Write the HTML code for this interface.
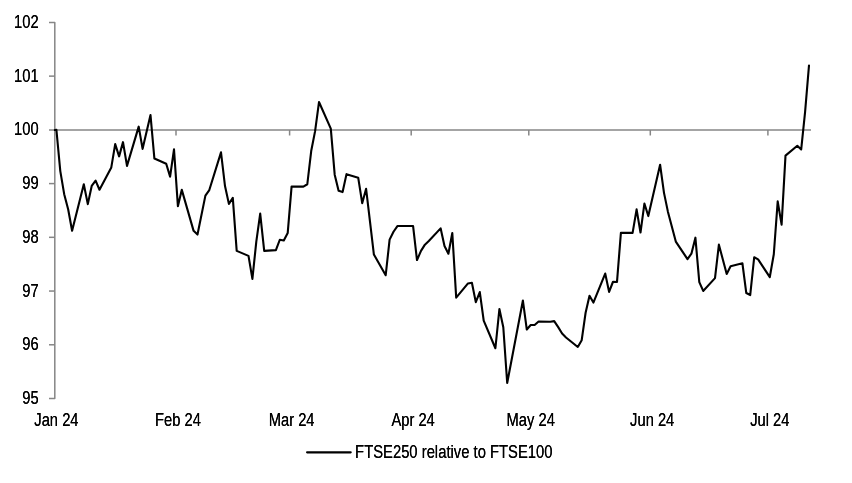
<!DOCTYPE html>
<html><head><meta charset="utf-8"><title>FTSE250 relative to FTSE100</title>
<style>html,body{margin:0;padding:0;background:#fff}body{width:852px;height:483px;overflow:hidden}svg{display:block}text{font-family:"Liberation Sans",Arial,sans-serif;font-size:18.4px;fill:#000}</style></head><body>
<svg width="852" height="483" viewBox="0 0 852 483">
<rect width="852" height="483" fill="#fff"/>
<g stroke="#868686" stroke-width="1.5" fill="none">
<path d="M49,22.4 H54.8 V398.5 H49" stroke-linejoin="round"/>
<line x1="49" y1="76.13" x2="54.8" y2="76.13"/>
<line x1="49" y1="130.00" x2="54.8" y2="130.00"/>
<line x1="49" y1="183.59" x2="54.8" y2="183.59"/>
<line x1="49" y1="237.32" x2="54.8" y2="237.32"/>
<line x1="49" y1="291.05" x2="54.8" y2="291.05"/>
<line x1="49" y1="344.78" x2="54.8" y2="344.78"/>
<line x1="54" y1="130" x2="811" y2="130"/>
<line x1="176.0" y1="130" x2="176.0" y2="135.5"/>
<line x1="289.6" y1="130" x2="289.6" y2="135.5"/>
<line x1="411.2" y1="130" x2="411.2" y2="135.5"/>
<line x1="528.8" y1="130" x2="528.8" y2="135.5"/>
<line x1="650.3" y1="130" x2="650.3" y2="135.5"/>
<line x1="767.9" y1="130" x2="767.9" y2="135.5"/>
</g>
<defs><filter id="w" x="-5%" y="-20%" width="110%" height="140%"><feOffset dx="0.28" dy="0" result="o"/><feMerge><feMergeNode in="SourceGraphic"/><feMergeNode in="o"/></feMerge></filter></defs>
<g filter="url(#w)">
<text transform="translate(38.6,28.00) scale(0.8,1)" text-anchor="end">102</text>
<text transform="translate(38.6,81.73) scale(0.8,1)" text-anchor="end">101</text>
<text transform="translate(38.6,135.46) scale(0.8,1)" text-anchor="end">100</text>
<text transform="translate(38.6,189.19) scale(0.8,1)" text-anchor="end">99</text>
<text transform="translate(38.6,242.92) scale(0.8,1)" text-anchor="end">98</text>
<text transform="translate(38.6,296.65) scale(0.8,1)" text-anchor="end">97</text>
<text transform="translate(38.6,350.38) scale(0.8,1)" text-anchor="end">96</text>
<text transform="translate(38.6,404.11) scale(0.8,1)" text-anchor="end">95</text>
<text transform="translate(56.4,426) scale(0.8,1)" text-anchor="middle">Jan 24</text>
<text transform="translate(177.9,426) scale(0.8,1)" text-anchor="middle">Feb 24</text>
<text transform="translate(291.6,426) scale(0.8,1)" text-anchor="middle">Mar 24</text>
<text transform="translate(413.1,426) scale(0.8,1)" text-anchor="middle">Apr 24</text>
<text transform="translate(530.7,426) scale(0.8,1)" text-anchor="middle">May 24</text>
<text transform="translate(652.2,426) scale(0.8,1)" text-anchor="middle">Jun 24</text>
<text transform="translate(769.8,426) scale(0.8,1)" text-anchor="middle">Jul 24</text>
<text transform="translate(355.1,458.3) scale(0.8048,1)">FTSE250 relative to FTSE100</text>
</g>
<polyline points="54.9,130.0 56.4,129.75 60.3,171.05 64.2,194.15 68.2,209.55 72.1,230.75 83.8,184.25 87.8,204.15 91.7,185.95 95.6,180.55 99.5,189.75 111.3,167.45 115.2,144.15 119.1,156.35 123.0,142.15 127.0,165.85 138.7,126.65 142.6,148.85 150.5,115.05 154.4,158.55 166.2,163.75 170.1,176.65 174.0,149.35 177.9,206.15 181.8,189.85 193.6,230.85 197.5,234.55 205.4,195.65 209.3,190.05 221.0,152.35 225.0,186.05 228.9,203.85 232.8,197.95 236.7,250.85 248.5,255.85 252.4,278.95 256.3,241.65 260.2,213.65 264.2,250.85 275.9,250.15 279.8,239.75 283.8,240.45 287.7,233.05 291.6,186.45 303.4,186.65 307.3,184.25 311.2,151.05 315.1,131.15 319.0,102.05 330.8,128.65 334.7,174.65 338.6,190.75 342.6,192.05 346.5,174.15 358.2,177.65 362.2,203.15 366.1,188.75 370.0,221.65 373.9,254.55 385.7,275.25 389.6,239.65 393.5,231.75 397.4,226.05 401.4,226.05 413.1,226.05 417.0,260.05 421.0,250.85 424.9,244.65 428.8,240.95 440.6,228.35 444.5,246.05 448.4,253.75 452.3,233.05 456.2,297.65 468.0,283.45 471.9,282.75 475.8,302.15 479.8,292.05 483.7,320.55 495.4,348.25 499.4,309.05 503.3,327.25 507.2,383.05 522.9,300.55 526.8,329.55 530.7,325.05 534.6,325.05 538.6,321.55 550.3,321.75 554.2,321.15 558.2,327.15 562.1,333.55 566.0,337.45 577.8,346.95 581.7,340.15 585.6,312.75 589.5,295.75 593.4,302.55 605.2,273.55 609.1,291.85 613.0,281.75 617.0,281.95 620.9,232.85 632.6,232.85 636.6,209.35 640.5,232.55 644.4,203.55 648.3,216.05 660.1,164.75 664.0,192.85 667.9,211.65 675.8,241.55 687.5,259.05 691.4,253.65 695.4,237.65 699.3,282.05 703.2,290.95 715.0,278.15 718.9,244.65 726.7,273.95 730.6,266.25 742.4,263.25 746.3,293.05 750.2,295.05 754.2,257.25 758.1,259.35 769.8,277.05 773.8,254.25 777.7,201.35 781.6,224.65 785.5,155.65 797.3,145.75 801.2,149.45 805.1,111.95 809.0,65.45" fill="none" stroke="#000" stroke-width="2.1" stroke-linejoin="round" stroke-linecap="round"/>
<line x1="307.1" y1="452.35" x2="350.7" y2="452.35" stroke="#000" stroke-width="2.2" stroke-linecap="round"/>
</svg></body></html>
